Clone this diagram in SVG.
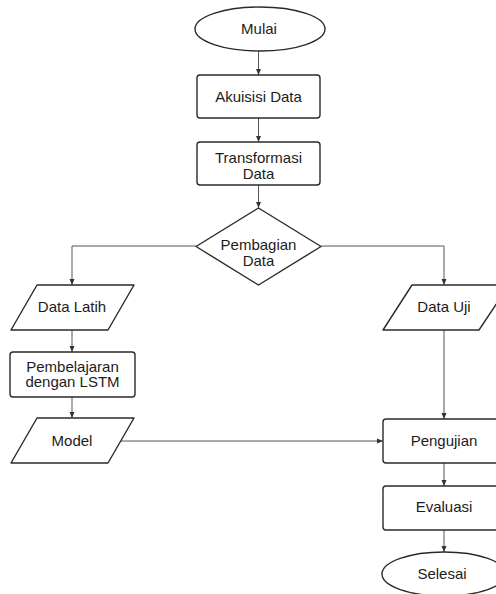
<svg xmlns="http://www.w3.org/2000/svg" width="496" height="594" viewBox="0 0 496 594">
<defs>
<style>
.shape{fill:#fff;stroke:#2a2a2a;stroke-width:1.4;stroke-linejoin:round}
.lbl{font-family:"Liberation Sans",Arial,sans-serif;font-size:15px;fill:#1c1c1c;text-anchor:middle}
.conn{fill:none;stroke:#555;stroke-width:1}
</style>
<marker id="arr" markerWidth="6" markerHeight="6" refX="6" refY="3" orient="auto" markerUnits="userSpaceOnUse">
<path d="M0,0.5 L6,3 L0,5.5 Z" fill="#333"/>
</marker>
</defs>
<rect width="496" height="594" fill="#fff"/>
<g id="connectors">
<line class="conn" x1="258.5" y1="51" x2="258.5" y2="75" marker-end="url(#arr)"/>
<line class="conn" x1="258.5" y1="118" x2="258.5" y2="142" marker-end="url(#arr)"/>
<line class="conn" x1="258.5" y1="185" x2="258.5" y2="208" marker-end="url(#arr)"/>
<polyline class="conn" points="196,246 72,246 72,285" marker-end="url(#arr)"/>
<polyline class="conn" points="321,246 444,246 444,285" marker-end="url(#arr)"/>
<line class="conn" x1="72" y1="330" x2="72" y2="352" marker-end="url(#arr)"/>
<line class="conn" x1="72" y1="397" x2="72" y2="418" marker-end="url(#arr)"/>
<line class="conn" x1="121" y1="441" x2="383" y2="441" marker-end="url(#arr)"/>
<line class="conn" x1="444" y1="330" x2="444" y2="419" marker-end="url(#arr)"/>
<line class="conn" x1="444" y1="463" x2="444" y2="486" marker-end="url(#arr)"/>
<line class="conn" x1="444" y1="530" x2="444" y2="552" marker-end="url(#arr)"/>
</g>
<g id="mulai">
<ellipse class="shape" cx="260" cy="29" rx="65" ry="22"/>
<text class="lbl" x="259" y="34">Mulai</text>
</g>
<g id="akuisisi">
<rect class="shape" x="197" y="75" width="123" height="43" rx="3"/>
<text class="lbl" x="258.5" y="101.5">Akuisisi Data</text>
</g>
<g id="transformasi">
<rect class="shape" x="197" y="142" width="123" height="43" rx="3"/>
<text class="lbl" x="258.5" y="163">Transformasi</text>
<text class="lbl" x="258.5" y="178.5">Data</text>
</g>
<g id="pembagian">
<polygon class="shape" points="258.5,208 321,246.5 258.5,285 196,246.5"/>
<text class="lbl" x="258.5" y="250">Pembagian</text>
<text class="lbl" x="258.5" y="266">Data</text>
</g>
<g id="data-latih">
<polygon class="shape" points="37,285 134,285 108,330 11,330"/>
<text class="lbl" x="72" y="312">Data Latih</text>
</g>
<g id="pembelajaran">
<rect class="shape" x="10" y="352" width="125" height="45" rx="3"/>
<text class="lbl" x="72.5" y="371.5">Pembelajaran</text>
<text class="lbl" x="72.5" y="387">dengan LSTM</text>
</g>
<g id="model">
<polygon class="shape" points="37,418 134,418 108,463 11,463"/>
<text class="lbl" x="72" y="445.5">Model</text>
</g>
<g id="data-uji">
<polygon class="shape" points="412,285 509,285 479,330 383,330"/>
<text class="lbl" x="444" y="312">Data Uji</text>
</g>
<g id="pengujian">
<rect class="shape" x="383" y="419" width="124" height="44" rx="3"/>
<text class="lbl" x="444" y="445.5">Pengujian</text>
</g>
<g id="evaluasi">
<rect class="shape" x="383" y="486" width="124" height="44" rx="3"/>
<text class="lbl" x="444" y="512">Evaluasi</text>
</g>
<g id="selesai">
<ellipse class="shape" cx="444" cy="574" rx="62" ry="22"/>
<text class="lbl" x="442" y="579">Selesai</text>
</g>
</svg>
